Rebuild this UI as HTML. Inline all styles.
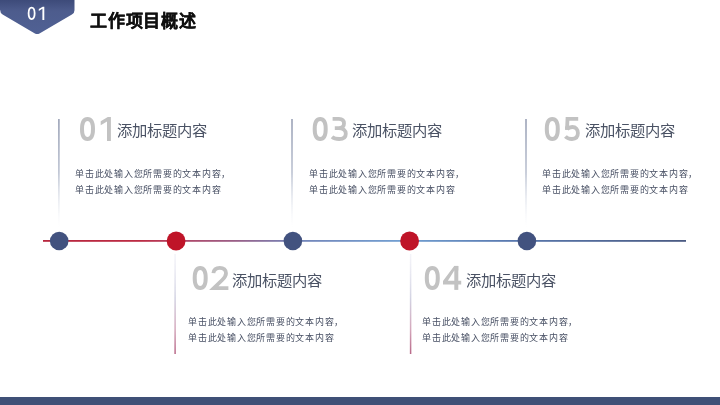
<!DOCTYPE html>
<html lang="zh-CN"><head><meta charset="utf-8">
<style>
html,body{margin:0;padding:0;}
body{width:720px;height:405px;position:relative;overflow:hidden;background:#fff;font-family:"Liberation Sans",sans-serif;}
.abs{position:absolute;white-space:nowrap;will-change:transform;}
.title{left:90px;top:9.8px;font-size:17px;letter-spacing:0.75px;font-weight:bold;color:#111;line-height:24px;-webkit-text-stroke:0.3px #111;}
.bnum{left:27px;top:3px;font-size:18px;color:#fff;line-height:20px;}
.head{font-size:15.3px;font-weight:500;color:#4a5264;line-height:20px;}
.body{font-size:9px;font-weight:500;color:#485064;line-height:15.8px;letter-spacing:0.76px;}
.bar{position:absolute;left:0;top:396.6px;width:720px;height:9px;background:#3f5077;}
</style></head><body>
<svg class="abs" style="left:0;top:0" width="720" height="405">
<defs>
<linearGradient id="bg" x1="0" y1="0" x2="0" y2="1"><stop offset="0" stop-color="#394674"/><stop offset="0.38" stop-color="#4d5c8d"/><stop offset="1" stop-color="#506194"/></linearGradient>
<linearGradient id="tl" x1="43" y1="0" x2="686" y2="0" gradientUnits="userSpaceOnUse">
<stop offset="0" stop-color="#b8263e"/>
<stop offset="0.15" stop-color="#bc2c44"/>
<stop offset="0.207" stop-color="#b44464"/>
<stop offset="0.30" stop-color="#9a6088"/>
<stop offset="0.389" stop-color="#7484b8"/>
<stop offset="0.56" stop-color="#72a0d2"/>
<stop offset="0.72" stop-color="#5a7ab0"/>
<stop offset="1" stop-color="#4a5a82"/>
</linearGradient>
<linearGradient id="vtop" x1="0" y1="0" x2="0" y2="1"><stop offset="0" stop-color="#939bb1"/><stop offset="0.5" stop-color="#b8bfcf"/><stop offset="1" stop-color="#e8ecf4" stop-opacity="0"/></linearGradient>
<linearGradient id="vbot" x1="0" y1="0" x2="0" y2="1"><stop offset="0" stop-color="#e4e4f0" stop-opacity="0.4"/><stop offset="0.45" stop-color="#d2d2e2"/><stop offset="0.75" stop-color="#d4a8bc"/><stop offset="1" stop-color="#b86888"/></linearGradient>
</defs>
<path d="M-3,-3 L74.5,-3 L74.5,10.2 Q74.5,13 71.9,14.5 L39.5,33.4 Q37.2,34.7 34.9,33.4 L2.6,14.5 Q0.2,13 0.2,10.2 Z" fill="url(#bg)"/>
<rect x="43" y="240" width="643" height="1.8" fill="url(#tl)"/>
<rect x="58.15" y="119" width="1.5" height="108" fill="url(#vtop)"/>
<rect x="291.25" y="119" width="1.5" height="108" fill="url(#vtop)"/>
<rect x="525.25" y="119" width="1.5" height="108" fill="url(#vtop)"/>
<rect x="174.35" y="254" width="1.5" height="100" fill="url(#vbot)"/>
<rect x="409.85" y="254" width="1.5" height="100" fill="url(#vbot)"/>
<circle cx="59.2" cy="241" r="9.3" fill="#42527f"/>
<circle cx="176.1" cy="241" r="9.4" fill="#bf1428"/>
<circle cx="292.9" cy="241" r="9.3" fill="#42527f"/>
<circle cx="409.6" cy="241" r="9.4" fill="#bf1428"/>
<circle cx="526.9" cy="241" r="9.3" fill="#42527f"/>
<g transform="translate(80.0,116.9)"><path d="M7.5,2 C11.4,2 13,5.3 13,12 C13,18.7 11.4,22 7.5,22 C3.6,22 2,18.7 2,12 C2,5.3 3.6,2 7.5,2Z" fill="none" stroke="#c2c2c2" stroke-width="4"/></g><g transform="translate(100.7,116.9)"><polygon points="6.3,24 10.2,24 10.2,0 7.1,0 0,4.4 0,8.4 6.3,4.6" fill="#c2c2c2"/></g><g transform="translate(312.7,116.9)"><path d="M7.5,2 C11.4,2 13,5.3 13,12 C13,18.7 11.4,22 7.5,22 C3.6,22 2,18.7 2,12 C2,5.3 3.6,2 7.5,2Z" fill="none" stroke="#c2c2c2" stroke-width="4"/></g><g transform="translate(331.6,116.9)"><path d="M1,1.9 L7.3,1.9 C10.9,1.9 12.4,3.9 12.4,6.6 C12.4,9.4 10.6,11.3 7.1,11.3 L3.2,11.3 M7.1,11.3 C11.6,11.3 14.2,13.5 14.2,16.8 C14.2,20.3 11.6,22.1 7.5,22.1 C4.6,22.1 2.1,21.4 0.4,19.9" fill="none" stroke="#c2c2c2" stroke-width="3.8"/></g><g transform="translate(544.8,116.9)"><path d="M7.5,2 C11.4,2 13,5.3 13,12 C13,18.7 11.4,22 7.5,22 C3.6,22 2,18.7 2,12 C2,5.3 3.6,2 7.5,2Z" fill="none" stroke="#c2c2c2" stroke-width="4"/></g><g transform="translate(564.6,116.9)"><path d="M13.6,1.9 L2.9,1.9 L2.4,12.6 M2.4,12.2 C3.8,10.8 5.6,10.1 7.6,10.1 C11.3,10.1 13.3,12.8 13.3,16.2 C13.3,19.9 11.1,22.1 7.4,22.1 C4.6,22.1 2.3,21.2 0.8,19.6" fill="none" stroke="#c2c2c2" stroke-width="3.8"/><rect x="0.5" y="9.5" width="3.8" height="3.5" fill="#c2c2c2"/></g><g transform="translate(192.7,265.9)"><path d="M7.5,2 C11.4,2 13,5.3 13,12 C13,18.7 11.4,22 7.5,22 C3.6,22 2,18.7 2,12 C2,5.3 3.6,2 7.5,2Z" fill="none" stroke="#c2c2c2" stroke-width="4"/></g><g transform="translate(211.4,265.9)"><path d="M2,7.2 C2.4,3.6 4.8,1.9 8.4,1.9 C12.2,1.9 14.6,4 14.6,7.3 C14.6,9.9 13.3,11.7 10.8,14.1 L2.4,22.2 L17,22.2" fill="none" stroke="#c2c2c2" stroke-width="3.8" stroke-linejoin="miter"/></g><g transform="translate(424.8,265.9)"><path d="M7.5,2 C11.4,2 13,5.3 13,12 C13,18.7 11.4,22 7.5,22 C3.6,22 2,18.7 2,12 C2,5.3 3.6,2 7.5,2Z" fill="none" stroke="#c2c2c2" stroke-width="4"/></g><g transform="translate(443.0,265.9)"><rect x="11.3" y="0" width="4" height="24" fill="#c2c2c2"/><polygon points="11.2,0 15.3,0 15.3,4.5 11.3,4.5 4.9,14.8 18.2,14.8 18.2,18.6 0,18.6 0,15.1" fill="#c2c2c2"/></g>
<path d="M31.6,7.65 C33.9,7.65 34.65,9.6 34.65,13.35 C34.65,17.1 33.9,19.05 31.6,19.05 C29.3,19.05 28.6,17.1 28.6,13.35 C28.6,9.6 29.3,7.65 31.6,7.65 Z" fill="none" stroke="#fff" stroke-width="1.8"/>
<polygon points="42.4,19.9 44.3,19.9 44.3,6.8 42.7,6.8 38.8,9.0 38.8,10.9 42.4,8.8" fill="#fff"/>
</svg>
<div class="abs title">工作项目概述</div>
<div class="abs head" style="left:117px;top:120.5px">添加标题内容</div>
<div class="abs body" style="left:75px;top:167px">单击此处输入您所需要的文本内容，<br>单击此处输入您所需要的文本内容</div>
<div class="abs head" style="left:352px;top:120.5px">添加标题内容</div>
<div class="abs body" style="left:309px;top:167px">单击此处输入您所需要的文本内容，<br>单击此处输入您所需要的文本内容</div>
<div class="abs head" style="left:585px;top:120.5px">添加标题内容</div>
<div class="abs body" style="left:542px;top:167px">单击此处输入您所需要的文本内容，<br>单击此处输入您所需要的文本内容</div>
<div class="abs head" style="left:232px;top:270.5px">添加标题内容</div>
<div class="abs body" style="left:188px;top:315.3px">单击此处输入您所需要的文本内容，<br>单击此处输入您所需要的文本内容</div>
<div class="abs head" style="left:466px;top:270.5px">添加标题内容</div>
<div class="abs body" style="left:422px;top:315.3px">单击此处输入您所需要的文本内容，<br>单击此处输入您所需要的文本内容</div>

<div class="bar"></div>
</body></html>
